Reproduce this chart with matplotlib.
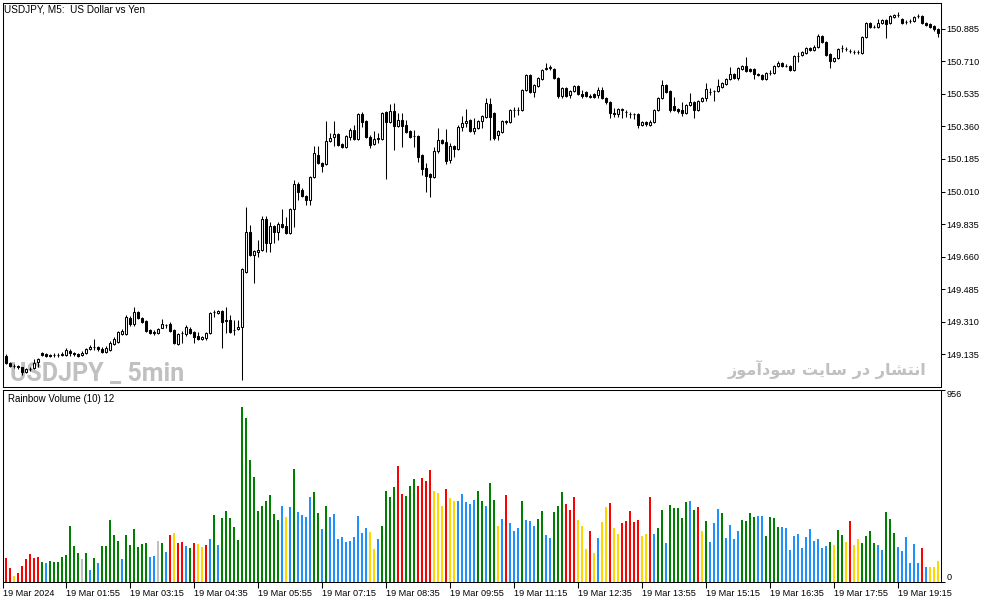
import numpy as np
import matplotlib
matplotlib.use("Agg")
import matplotlib.pyplot as plt
from matplotlib import font_manager

# USDJPY M5 candles, 19 Mar 2024 00:40 .. 20:05
opens = [149.127, 149.090, 149.074, 149.074, 149.068, 149.041, 149.058, 149.063, 149.095, 149.143,
         149.138, 149.132, 149.132, 149.132, 149.132, 149.132, 149.154, 149.143, 149.138, 149.132,
         149.143, 149.165, 149.175, 149.175, 149.165, 149.148, 149.159, 149.192, 149.202, 149.245,
         149.245, 149.331, 149.299, 149.363, 149.331, 149.315, 149.267, 149.256, 149.251, 149.277,
         149.293, 149.299, 149.267, 149.192, 149.251, 149.245, 149.272, 149.256, 149.235, 149.219,
         149.224, 149.251, 149.363, 149.358, 149.368, 149.315, 149.320, 149.267, 149.272, 149.283,
         149.578, 149.793, 149.669, 149.685, 149.696, 149.862, 149.734, 149.825, 149.793, 149.836,
         149.825, 149.787, 149.916, 150.050, 150.018, 149.986, 149.964, 150.088, 150.206, 150.163,
         150.158, 150.281, 150.303, 150.319, 150.265, 150.249, 150.303, 150.340, 150.292, 150.426,
         150.388, 150.303, 150.265, 150.292, 150.292, 150.437, 150.383, 150.442, 150.362, 150.394,
         150.367, 150.335, 150.308, 150.308, 150.206, 150.136, 150.104, 150.088, 150.227, 150.287,
         150.276, 150.179, 150.254, 150.238, 150.356, 150.378, 150.394, 150.335, 150.351, 150.388,
         150.410, 150.480, 150.431, 150.313, 150.329, 150.383, 150.383, 150.448, 150.448, 150.448,
         150.555, 150.635, 150.544, 150.576, 150.614, 150.668, 150.673, 150.668, 150.619, 150.523,
         150.566, 150.528, 150.550, 150.576, 150.534, 150.544, 150.523, 150.534, 150.528, 150.555,
         150.512, 150.491, 150.431, 150.426, 150.448, 150.437, 150.426, 150.426, 150.426, 150.367,
         150.383, 150.367, 150.383, 150.448, 150.512, 150.582, 150.550, 150.469, 150.453, 150.448,
         150.431, 150.474, 150.491, 150.448, 150.496, 150.512, 150.544, 150.550, 150.550, 150.571,
         150.587, 150.614, 150.641, 150.619, 150.668, 150.684, 150.668, 150.668, 150.641, 150.635,
         150.614, 150.646, 150.646, 150.684, 150.700, 150.684, 150.684, 150.662, 150.737, 150.743,
         150.754, 150.780, 150.770, 150.786, 150.845, 150.813, 150.748, 150.711, 150.727, 150.780,
         150.775, 150.764, 150.759, 150.759, 150.754, 150.839, 150.915, 150.893, 150.893, 150.915,
         150.931, 150.915, 150.947, 150.957, 150.936, 150.920, 150.925, 150.925, 150.952, 150.952,
         150.915, 150.909, 150.898, 150.882]
highs = [149.138, 149.095, 149.085, 149.079, 149.068, 149.063, 149.068, 149.111, 149.116, 149.148,
         149.143, 149.138, 149.143, 149.143, 149.148, 149.170, 149.165, 149.148, 149.143, 149.154,
         149.170, 149.186, 149.219, 149.181, 149.175, 149.181, 149.208, 149.229, 149.261, 149.272,
         149.347, 149.342, 149.390, 149.368, 149.336, 149.320, 149.272, 149.267, 149.277, 149.326,
         149.299, 149.309, 149.272, 149.251, 149.261, 149.293, 149.283, 149.261, 149.256, 149.235,
         149.256, 149.363, 149.374, 149.374, 149.374, 149.390, 149.347, 149.320, 149.320, 149.599,
         149.927, 149.830, 149.696, 149.750, 149.879, 149.879, 149.846, 149.830, 149.846, 149.916,
         149.873, 149.921, 150.072, 150.061, 150.029, 149.991, 150.093, 150.254, 150.254, 150.168,
         150.388, 150.324, 150.388, 150.324, 150.270, 150.313, 150.351, 150.367, 150.431, 150.437,
         150.394, 150.313, 150.335, 150.324, 150.437, 150.442, 150.480, 150.485, 150.431, 150.431,
         150.394, 150.340, 150.340, 150.313, 150.211, 150.163, 150.109, 150.249, 150.351, 150.292,
         150.346, 150.270, 150.260, 150.367, 150.415, 150.453, 150.399, 150.405, 150.394, 150.421,
         150.512, 150.512, 150.437, 150.340, 150.394, 150.394, 150.453, 150.464, 150.464, 150.560,
         150.641, 150.641, 150.587, 150.625, 150.668, 150.700, 150.689, 150.673, 150.625, 150.571,
         150.571, 150.555, 150.582, 150.582, 150.555, 150.550, 150.534, 150.539, 150.571, 150.571,
         150.517, 150.496, 150.458, 150.458, 150.458, 150.448, 150.437, 150.431, 150.431, 150.388,
         150.388, 150.394, 150.453, 150.517, 150.609, 150.587, 150.555, 150.517, 150.458, 150.491,
         150.480, 150.539, 150.496, 150.501, 150.517, 150.593, 150.566, 150.555, 150.614, 150.598,
         150.619, 150.678, 150.646, 150.678, 150.689, 150.732, 150.673, 150.673, 150.646, 150.641,
         150.652, 150.662, 150.689, 150.711, 150.705, 150.695, 150.689, 150.743, 150.759, 150.764,
         150.786, 150.786, 150.796, 150.855, 150.850, 150.818, 150.754, 150.732, 150.780, 150.796,
         150.786, 150.775, 150.770, 150.770, 150.845, 150.920, 150.920, 150.904, 150.936, 150.936,
         150.936, 150.957, 150.963, 150.974, 150.941, 150.931, 150.936, 150.952, 150.963, 150.957,
         150.920, 150.915, 150.904, 150.888]
lows = [149.085, 149.068, 149.063, 149.058, 149.025, 149.036, 149.047, 149.058, 149.068, 149.127,
        149.121, 149.121, 149.121, 149.121, 149.127, 149.127, 149.127, 149.127, 149.121, 149.127,
        149.138, 149.159, 149.159, 149.154, 149.143, 149.143, 149.154, 149.186, 149.197, 149.240,
        149.240, 149.288, 149.288, 149.326, 149.304, 149.256, 149.245, 149.240, 149.245, 149.277,
        149.277, 149.256, 149.192, 149.186, 149.197, 149.235, 149.245, 149.197, 149.213, 149.213,
        149.213, 149.245, 149.336, 149.352, 149.170, 149.251, 149.251, 149.240, 149.267, 148.998,
        149.573, 149.664, 149.519, 149.658, 149.691, 149.685, 149.685, 149.734, 149.750, 149.814,
        149.782, 149.782, 149.819, 149.964, 149.981, 149.938, 149.938, 150.083, 150.158, 150.115,
        150.152, 150.276, 150.254, 150.254, 150.244, 150.244, 150.287, 150.287, 150.287, 150.356,
        150.297, 150.244, 150.260, 150.270, 150.287, 150.077, 150.378, 150.233, 150.356, 150.249,
        150.324, 150.297, 150.249, 150.168, 150.099, 150.007, 149.981, 150.083, 150.217, 150.265,
        150.158, 150.163, 150.195, 150.233, 150.335, 150.356, 150.329, 150.319, 150.346, 150.351,
        150.405, 150.287, 150.287, 150.287, 150.324, 150.372, 150.378, 150.410, 150.421, 150.442,
        150.550, 150.539, 150.517, 150.571, 150.609, 150.662, 150.662, 150.614, 150.512, 150.512,
        150.517, 150.512, 150.544, 150.528, 150.512, 150.517, 150.512, 150.512, 150.512, 150.507,
        150.480, 150.405, 150.410, 150.410, 150.405, 150.410, 150.405, 150.399, 150.351, 150.362,
        150.362, 150.362, 150.378, 150.442, 150.507, 150.539, 150.437, 150.442, 150.431, 150.415,
        150.426, 150.469, 150.405, 150.442, 150.491, 150.496, 150.528, 150.496, 150.544, 150.566,
        150.582, 150.609, 150.614, 150.609, 150.662, 150.652, 150.652, 150.614, 150.630, 150.609,
        150.609, 150.635, 150.641, 150.678, 150.678, 150.678, 150.657, 150.657, 150.705, 150.737,
        150.748, 150.764, 150.764, 150.780, 150.807, 150.737, 150.673, 150.705, 150.721, 150.759,
        150.764, 150.754, 150.748, 150.748, 150.748, 150.834, 150.888, 150.888, 150.888, 150.909,
        150.834, 150.909, 150.941, 150.947, 150.909, 150.909, 150.915, 150.920, 150.941, 150.909,
        150.898, 150.888, 150.872, 150.839]
closes = [149.090, 149.074, 149.074, 149.068, 149.041, 149.058, 149.058, 149.090, 149.111, 149.132,
          149.127, 149.127, 149.132, 149.132, 149.138, 149.159, 149.143, 149.138, 149.127, 149.143,
          149.165, 149.175, 149.175, 149.165, 149.148, 149.170, 149.197, 149.219, 149.256, 149.261,
          149.336, 149.299, 149.363, 149.331, 149.309, 149.261, 149.251, 149.251, 149.272, 149.299,
          149.293, 149.261, 149.197, 149.245, 149.251, 149.283, 149.251, 149.229, 149.219, 149.229,
          149.251, 149.358, 149.363, 149.368, 149.309, 149.320, 149.256, 149.267, 149.283, 149.594,
          149.793, 149.669, 149.691, 149.696, 149.862, 149.734, 149.825, 149.793, 149.836, 149.819,
          149.787, 149.916, 150.050, 150.007, 149.986, 149.964, 150.088, 150.217, 150.163, 150.147,
          150.281, 150.297, 150.319, 150.260, 150.249, 150.308, 150.340, 150.292, 150.426, 150.383,
          150.303, 150.260, 150.292, 150.297, 150.431, 150.383, 150.442, 150.362, 150.394, 150.362,
          150.329, 150.303, 150.308, 150.195, 150.131, 150.093, 150.088, 150.227, 150.287, 150.270,
          150.174, 150.254, 150.238, 150.356, 150.378, 150.388, 150.335, 150.351, 150.388, 150.415,
          150.485, 150.410, 150.297, 150.335, 150.388, 150.388, 150.448, 150.448, 150.448, 150.555,
          150.635, 150.544, 150.582, 150.619, 150.662, 150.673, 150.678, 150.619, 150.523, 150.566,
          150.523, 150.550, 150.576, 150.534, 150.523, 150.523, 150.517, 150.517, 150.555, 150.512,
          150.491, 150.431, 150.426, 150.453, 150.453, 150.437, 150.426, 150.426, 150.367, 150.383,
          150.372, 150.383, 150.448, 150.512, 150.582, 150.544, 150.448, 150.448, 150.442, 150.431,
          150.474, 150.491, 150.448, 150.496, 150.512, 150.560, 150.544, 150.550, 150.576, 150.593,
          150.614, 150.641, 150.619, 150.673, 150.684, 150.657, 150.657, 150.641, 150.635, 150.614,
          150.646, 150.646, 150.684, 150.700, 150.684, 150.684, 150.662, 150.737, 150.737, 150.759,
          150.780, 150.770, 150.786, 150.845, 150.813, 150.743, 150.711, 150.727, 150.775, 150.780,
          150.775, 150.764, 150.759, 150.759, 150.839, 150.915, 150.893, 150.893, 150.915, 150.931,
          150.909, 150.952, 150.957, 150.957, 150.915, 150.920, 150.925, 150.947, 150.952, 150.915,
          150.904, 150.893, 150.882, 150.861]

# Rainbow Volume (10) histogram, same bars
volumes = [119, 70, 30, 45, 80, 114, 139, 119, 124, 99,
           94, 104, 99, 99, 124, 134, 278, 179, 144, 114,
           144, 60, 119, 94, 179, 179, 308, 234, 204, 114,
           234, 184, 263, 174, 189, 194, 124, 129, 204, 194,
           149, 234, 244, 194, 199, 179, 169, 194, 189, 174,
           184, 214, 333, 184, 318, 353, 318, 273, 209, 870,
           815, 606, 522, 353, 378, 403, 432, 338, 308, 378,
           323, 373, 562, 348, 333, 323, 423, 447, 343, 263,
           378, 323, 338, 214, 224, 199, 204, 224, 328, 244,
           268, 249, 164, 214, 278, 452, 423, 472, 577, 437,
           428, 477, 512, 477, 517, 502, 557, 452, 442, 378,
           462, 418, 403, 403, 437, 398, 388, 408, 452, 403,
           378, 492, 408, 278, 313, 432, 293, 254, 268, 403,
           308, 303, 278, 313, 353, 234, 219, 348, 378, 447,
           388, 358, 423, 308, 278, 164, 254, 144, 219, 298,
           373, 393, 268, 239, 293, 303, 353, 298, 308, 229,
           239, 423, 239, 268, 358, 194, 383, 368, 368, 318,
           398, 403, 358, 373, 254, 303, 199, 293, 363, 343,
           219, 283, 214, 254, 308, 303, 343, 323, 328, 328,
           229, 323, 318, 273, 273, 268, 159, 229, 239, 169,
           224, 263, 204, 214, 169, 179, 199, 184, 258, 234,
           199, 303, 184, 214, 194, 229, 254, 194, 184, 159,
           348, 313, 244, 174, 154, 224, 94, 189, 94, 169,
           75, 75, 75, 104]
vol_codes = ("rryrrrrrrg" "bggggggggs" "gbgbgggggb" "ggggggbbsg" "bryrrbgryy"
             "rbgbgggggg" "gggggggggb" "ybgbbbbggb" "gbbbbbbbbb" "byybggggrr"
             "gggrrrryyy" "ryybbbbbgg" "bggybrbbbg" "bbbggbbggg" "rrryyyryby"
             "yryyrrrrry" "yrbggbgggg" "gbgrygbbbg" "bbbbggggbb" "ggggbbbbbb"
             "bbbbbbgygg" "yryyggggbb" "gggbbbbbbr" "byyy")
palette = {"g": "#008000", "r": "#ff0000", "b": "#1e90ff", "y": "#ffd700", "s": "#c0c0c0"}

time_labels = ["19 Mar 2024", "19 Mar 01:55", "19 Mar 03:15", "19 Mar 04:35", "19 Mar 05:55",
               "19 Mar 07:15", "19 Mar 08:35", "19 Mar 09:55", "19 Mar 11:15", "19 Mar 12:35",
               "19 Mar 13:55", "19 Mar 15:15", "19 Mar 16:35", "19 Mar 17:55", "19 Mar 19:15"]
price_ticks = [149.135, 149.310, 149.485, 149.660, 149.835, 150.010,
               150.185, 150.360, 150.535, 150.710, 150.885]
vol_ticks = [0, 956]

installed = {f.name for f in font_manager.fontManager.ttflist}
ui_font = "Liberation Sans" if "Liberation Sans" in installed else "DejaVu Sans"
mark_font = "Roboto" if "Roboto" in installed else ui_font

W, H = 994, 603
fig = plt.figure(figsize=(W / 100, H / 100), dpi=100)
fig.patch.set_facecolor("white")

ax = fig.add_axes([2.5 / W, 1 - 386.5 / H, 938.5 / W, 384 / H])
axv = fig.add_axes([2.5 / W, 1 - 582.3 / H, 938.5 / W, 192.3 / H])

x = np.arange(len(closes))
o = np.array(opens)
c = np.array(closes)
lw = 0.75

# watermarks sit under the candles
ax.text(8 / 938.5, 1 - 378.5 / 384, "USDJPY _ 5min", transform=ax.transAxes,
        family=mark_font, fontweight="bold", fontsize=18, color="#c0c0c0",
        ha="left", va="baseline", zorder=1)
ax.text(924 / 938.5, 1 - 366.5 / 384, "ﺯﻮﻣﺁﺩﻮﺳ ﺖﻳﺎﺳ ﺭﺩ ﺭﺎﺸﺘﻧﺍ", transform=ax.transAxes,
        family="DejaVu Sans", fontweight="bold", fontsize=11.6, color="#c0c0c0",
        ha="right", va="center", zorder=1)

# candles: wicks then bodies
ax.vlines(x, lows, highs, color="black", lw=lw, zorder=3)
bottoms = np.minimum(o, c)
heights = np.maximum(np.abs(c - o), 0.0004)
faces = ["white" if cc >= oo else "black" for oo, cc in zip(o, c)]
ax.bar(x, heights, bottom=bottoms, width=0.5, color=faces, edgecolor="black",
       linewidth=lw, zorder=4)

ax.set_xlim(-0.875, 233.75)
ax.set_ylim(148.963, 151.025)
ax.yaxis.tick_right()
ax.set_yticks(price_ticks)
ax.set_yticklabels([f"{v:.3f}" for v in price_ticks])
ax.set_xticks([])
ax.tick_params(axis="y", direction="out", length=3, width=lw, pad=1, labelsize=6.6)
for lab in ax.get_yticklabels():
    lab.set_fontfamily(ui_font)

fig.text(4 / W, 1 - 10 / H, "USDJPY, M5:  US Dollar vs Yen", family=ui_font,
         fontsize=7.2, ha="left", va="center")

# volume panel
axv.bar(x, volumes, width=0.5, color=[palette[k] for k in vol_codes], zorder=3)
axv.set_xlim(-0.875, 233.75)
axv.set_ylim(0, 956)
axv.yaxis.tick_right()
axv.set_yticks(vol_ticks)
axv.set_yticklabels([str(v) for v in vol_ticks])
axv.tick_params(axis="y", direction="out", length=3, width=lw, pad=1, labelsize=6.6)
ylabs = axv.get_yticklabels()
ylabs[0].set_va("bottom")
ylabs[1].set_va("top")
for lab in ylabs:
    lab.set_fontfamily(ui_font)
axv.set_xticks([-0.8] + list(range(15, 234, 16)))
axv.set_xticklabels(time_labels)
axv.tick_params(axis="x", direction="out", length=4, width=lw, pad=0.5, labelsize=6.6)
for lab in axv.get_xticklabels():
    lab.set_ha("left")
    lab.set_fontfamily(ui_font)
axv.text(6 / 938.5, 1 - 9 / 192.3, "Rainbow Volume (10) 12", transform=axv.transAxes,
         family=ui_font, fontsize=7.0, ha="left", va="center")

for a in (ax, axv):
    for s in a.spines.values():
        s.set_linewidth(lw)
        s.set_color("black")

fig.savefig("out.png", dpi=100, facecolor="white")
